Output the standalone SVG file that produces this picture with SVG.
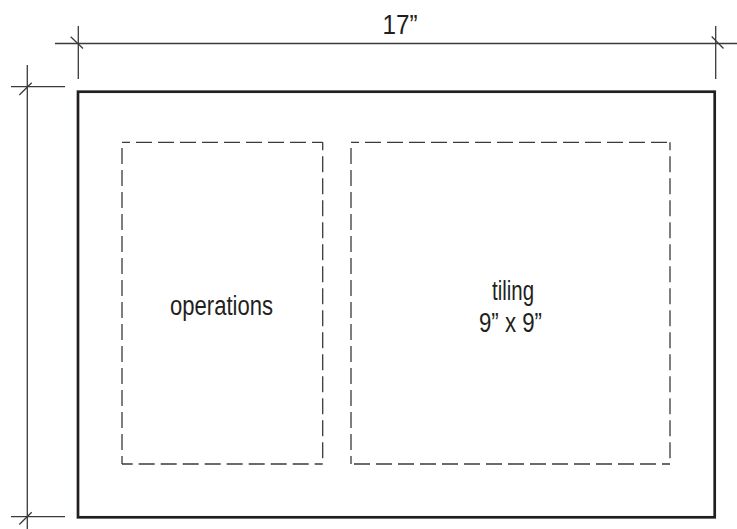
<svg xmlns="http://www.w3.org/2000/svg" width="737" height="529" viewBox="0 0 737 529">
<style>
.dim{stroke:#3a3a3a;stroke-width:1.3;fill:none}
.frame{stroke:#231f20;stroke-width:2.7;fill:none}
.dash{stroke:#3a3a3a;stroke-width:1.3;fill:none;stroke-dasharray:16 6;stroke-dashoffset:8}
.lbl{font-family:"Liberation Sans",Arial,sans-serif;font-size:27px;fill:#231f20;text-anchor:middle}
</style>
<rect width="737" height="529" fill="#ffffff"/>
<g id="connectors">
  <line class="dim" x1="55" y1="43.5" x2="737" y2="43.5"/>
  <line class="dim" x1="78.3" y1="26" x2="78.3" y2="79"/>
  <line class="dim" x1="70.7" y1="36.7" x2="83" y2="48.5" stroke-width="1.8"/>
  <line class="dim" x1="715.7" y1="26" x2="715.7" y2="79"/>
  <line class="dim" x1="711.7" y1="36.5" x2="723.5" y2="48.5" stroke-width="1.8"/>
  <line class="dim" x1="27.3" y1="65" x2="27.3" y2="529"/>
  <line class="dim" x1="11" y1="86.7" x2="65" y2="86.7"/>
  <line class="dim" x1="19.3" y1="95" x2="31.7" y2="82.7" stroke-width="1.8"/>
  <line class="dim" x1="11" y1="516.7" x2="65" y2="516.7"/>
  <line class="dim" x1="19.3" y1="524.5" x2="31.7" y2="512.3" stroke-width="1.8"/>
</g>
<g id="width-label"><text class="lbl" x="400" y="34" textLength="35" lengthAdjust="spacingAndGlyphs">17”</text></g>
<g id="sheet"><rect class="frame" x="78" y="91.7" width="636.7" height="425.6"/></g>
<g id="operations">
  <line class="dash" x1="122" y1="142.3" x2="322.7" y2="142.3"/>
  <line class="dash" x1="322.7" y1="142.3" x2="322.7" y2="464"/>
  <line class="dash" x1="322.7" y1="464" x2="122" y2="464"/>
  <line class="dash" x1="122" y1="464" x2="122" y2="142.3"/>
  <text class="lbl" x="221.5" y="315" textLength="103" lengthAdjust="spacingAndGlyphs">operations</text>
</g>
<g id="tiling">
  <line class="dash" x1="351" y1="142.3" x2="670" y2="142.3"/>
  <line class="dash" x1="670" y1="142.3" x2="670" y2="464"/>
  <line class="dash" x1="670" y1="464" x2="351" y2="464"/>
  <line class="dash" x1="351" y1="464" x2="351" y2="142.3"/>
  <text class="lbl" x="513" y="300" textLength="42" lengthAdjust="spacingAndGlyphs">tiling</text>
  <text class="lbl" x="510.5" y="332" textLength="63" lengthAdjust="spacingAndGlyphs">9” x 9”</text>
</g>
</svg>
